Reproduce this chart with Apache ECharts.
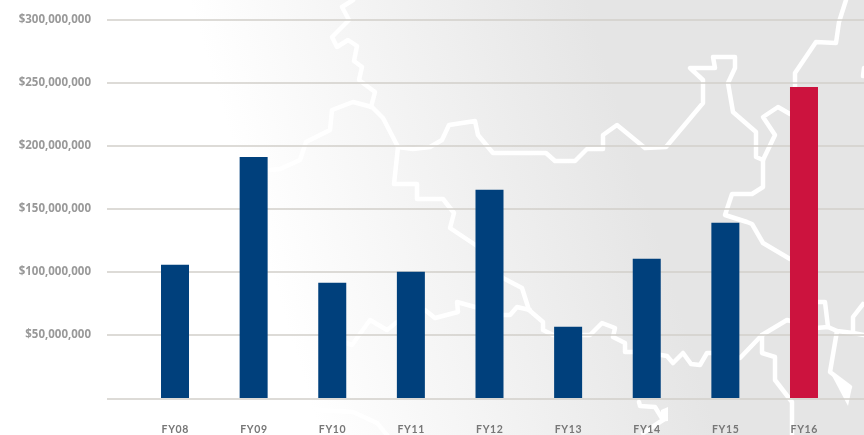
<!DOCTYPE html>
<html>
<head>
<meta charset="utf-8">
<style>html,body{margin:0;padding:0;background:#fff}#c{width:864px;height:435px}</style>
<script src="https://cdn.jsdelivr.net/npm/echarts@6/dist/echarts.min.js"></script>
</head>
<body>
<div id="c"></div>
<script>
const categories = ['FY08','FY09','FY10','FY11','FY12','FY13','FY14','FY15','FY16'];
const funding = [105500000,191000000,91300000,100000000,164900000,56400000,110300000,138800000,246400000];
const highlightCategory = 'FY16';
const yMax = 300000000;
const yStep = 50000000;

// Decorative map outline behind the chart (page pixels, not data)
const borders = [
 [[353,0],[342,7],[349,20],[332,37],[337,47],[348,40],[357,46],[354,61],[362,67],[359,80],[375,92],[371,107]],
 [[270,170],[280,169],[300,160],[306,142],[330,130],[332,110],[353,102],[372,107],[383,118],[398,147],[413,149],[430,147],[442,140],[449,125],[475,121],[478,135],[493,153],[546,153],[555,161],[575,161],[587,149],[603,149],[603,135],[617,125],[645,148],[666,147],[703,103],[703,80],[690,68],[715,68],[713,57],[735,57],[735,68],[728,83],[733,112],[756,132],[756,157],[763,160],[775,135],[763,117],[778,107],[790,114]],
 [[398,147],[394,184],[417,184],[417,199],[443,199],[454,213],[450,228],[477,246],[503,278],[522,288],[529,310],[543,322],[543,330],[553,335],[590,335],[602,323],[615,328],[613,337],[625,343],[625,352],[633,352],[661,355],[667,356],[673,363],[683,353],[691,364],[700,365],[707,353],[711,353],[740,358],[762,335],[787,320],[816,328],[828,327],[837,331],[853,333],[853,317],[863,304]],
 [[762,335],[762,353],[775,357],[775,380],[792,402],[792,435]],
 [[816,302],[825,302],[828,327]],
 [[837,331],[830,372],[850,387]],
 [[853,333],[864,335]],
 [[846,0],[839,22],[836,43],[816,42],[795,73],[795,90]],
 [[763,160],[763,187],[752,194],[732,194],[725,215],[747,222],[752,224],[763,243],[790,259]],
 [[317,410],[353,412],[377,423],[387,435]],
 [[325,335],[340,341],[352,345],[370,320],[387,330],[397,322],[425,310],[435,318],[458,312],[457,302],[475,307],[503,315],[510,315],[517,307],[530,310]],
 [[639,402],[640,406],[655,407],[663,420],[643,433]],
 [[864,68],[863,76]]
];
const wedges = [
 [[830,372],[852,387],[848,406]],
 [[661,410],[668,407],[668,421],[660,422]]
];

const chart = echarts.init(document.getElementById('c'), null, {renderer:'canvas'});
const gridTop = 19.3, gridBottom = 435 - 398.3;
const graphics = [{
  type:'rect', silent:true, z:-10,
  shape:{x:0,y:0,width:864,height:435},
  style:{fill:new echarts.graphic.LinearGradient(195,20,560,-90,[
    {offset:0,color:'#ffffff'},{offset:1,color:'#e5e5e5'}],true)}
}];
borders.forEach(p=>graphics.push({
  type:'polyline', silent:true, z:-9, shape:{points:p},
  style:{stroke:'#ffffff',fill:null,lineWidth:4.5,lineJoin:'round',lineCap:'round'}
}));
wedges.forEach(p=>graphics.push({
  type:'polygon', silent:true, z:-9, shape:{points:p}, style:{fill:'#ffffff'}
}));

chart.setOption({
  animation:false,
  graphic:{z:-10, elements:graphics},
  grid:[
    {left:107,right:0,top:gridTop,bottom:gridBottom},
    {left:135.7,right:20.7,top:gridTop,bottom:gridBottom}
  ],
  xAxis:[
    {type:'value',gridIndex:0,min:0,max:1,show:false},
    {type:'category',gridIndex:1,data:categories,
     axisLine:{show:false},axisTick:{show:false},splitLine:{show:false},
     axisLabel:{margin:26,color:'#777777',fontFamily:'Lato',fontWeight:'bold',fontSize:10.5,
       formatter:v=>v.split('').join('\u200a')}}
  ],
  yAxis:[
    {type:'value',gridIndex:0,min:0,max:yMax,interval:yStep,
     axisLine:{show:false},axisTick:{show:false},
     axisLabel:{margin:16,color:'#999999',fontFamily:'Open Sans',fontWeight:'bold',fontSize:11.5,
       formatter:v=>v===0?'':'$'+v.toLocaleString('en-US')},
     splitLine:{show:true,lineStyle:{color:'#d2cfca',width:1.6}}},
    {type:'value',gridIndex:1,min:0,max:yMax,interval:yStep,show:false,splitLine:{show:false}}
  ],
  series:[{
    type:'bar',xAxisIndex:1,yAxisIndex:1,barWidth:28,
    data:funding.map((v,i)=>({value:v,itemStyle:{color:categories[i]===highlightCategory?'#cc133e':'#00407c'}}))
  }]
});
</script>
</body>
</html>
